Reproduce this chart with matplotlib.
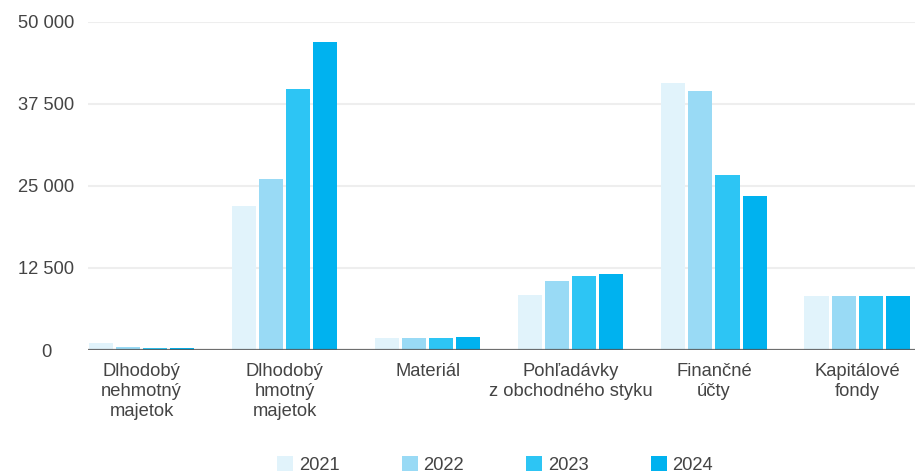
import numpy as np
import matplotlib
matplotlib.use("Agg")
import matplotlib.pyplot as plt

plt.rcParams['font.family'] = ['Liberation Sans', 'DejaVu Sans']

# kategorie a hodnoty
categories = ["Dlhodobý\nnehmotný\nmajetok", "Dlhodobý\nhmotný\nmajetok", "Materiál",
              "Pohľadávky\nz obchodného styku", "Finančné\núčty", "Kapitálové\nfondy"]
years = ["2021", "2022", "2023", "2024"]
v2021 = [1100, 22000, 1800, 8400, 40700, 8200]
v2022 = [450, 26000, 1800, 10500, 39500, 8200]
v2023 = [300, 39800, 1800, 11300, 26700, 8200]
v2024 = [300, 47000, 2000, 11600, 23500, 8200]
yticks = [0, 12500, 25000, 37500, 50000]
ytick_labels = ["0", "12 500", "25 000", "37 500", "50 000"]

colors = ["#e1f3fb", "#99daf5", "#2dc5f4", "#00b2ef"]
series = [v2021, v2022, v2023, v2024]

fig = plt.figure(figsize=(9.15, 4.73), dpi=100)
ax = fig.add_axes([88 / 915, 123 / 473, 827 / 915, 328 / 473])

x = np.arange(len(categories))
step = 0.189
width = 0.168
for i, (vals, col, yr) in enumerate(zip(series, colors, years)):
    ax.bar(x + (i - 1.5) * step, vals, width, color=col, label=yr, zorder=3)

ax.set_xlim(-0.375, 5.405)
ax.set_ylim(0, 50000)

# mriezka
ax.set_yticks(yticks)
ax.set_yticklabels(ytick_labels)
for t in yticks[1:]:
    ax.axhline(t, color="#eeeeee", lw=1.5, zorder=1)
ax.axhline(0, color="#555555", lw=1.6, alpha=0.85, zorder=4)

for s in ax.spines.values():
    s.set_visible(False)

ax.tick_params(axis="y", length=0, pad=30, labelsize=13.2, labelcolor="#444444")
for lab in ax.get_yticklabels():
    lab.set_horizontalalignment("center")

ax.set_xticks(x)
ax.set_xticklabels(categories, linespacing=1.25)
ax.tick_params(axis="x", length=0, pad=9, labelsize=13.2, labelcolor="#444444")

fig.legend(loc="center", bbox_to_anchor=(0.541, 0.017), ncol=4, frameon=False,
           handlelength=0.88, handleheight=0.88, handletextpad=0.3, columnspacing=3.4,
           fontsize=13.2, labelcolor="#444444", borderpad=0)

fig.savefig("out.png", dpi=100)
